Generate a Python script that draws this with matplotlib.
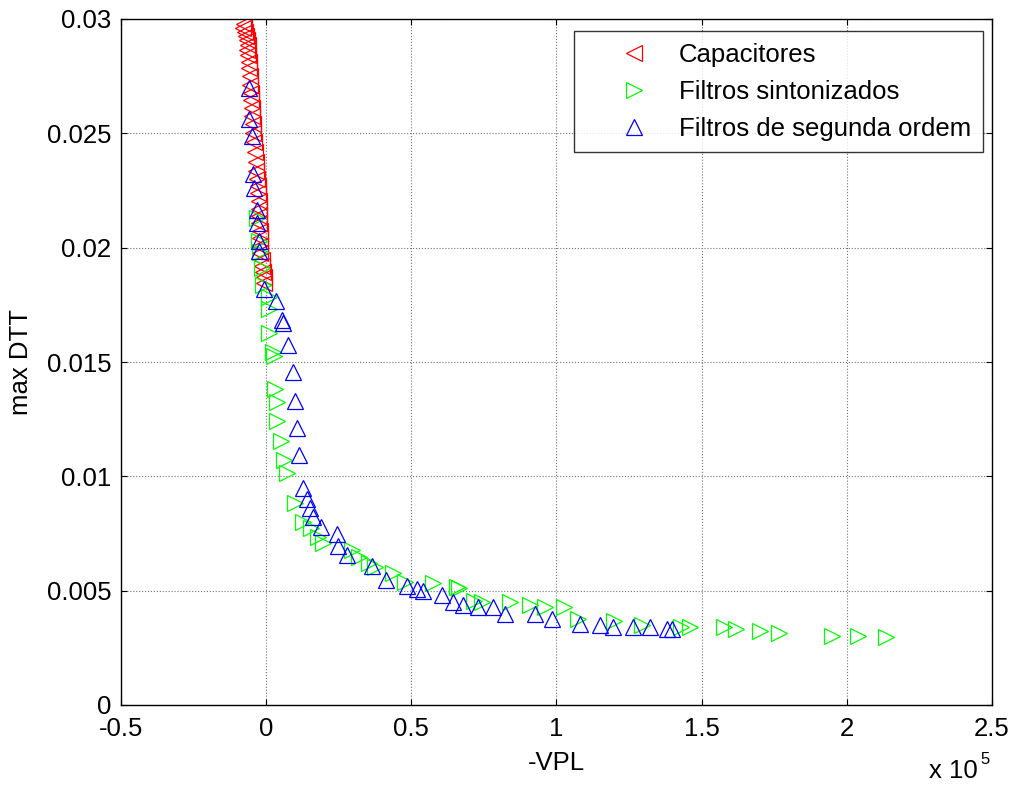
import numpy as np
import matplotlib
matplotlib.use("Agg")
import matplotlib.pyplot as plt

plt.rcParams['font.family'] = ['Liberation Sans', 'DejaVu Sans']

# -VPL in units of 1e5, max DTT
cap_x = [-0.076, -0.079, -0.072, -0.069, -0.065, -0.062, -0.065, -0.062, -0.059, -0.059,
         -0.055, -0.055, -0.052, -0.052, -0.048, -0.048, -0.045, -0.045, -0.041, -0.038,
         -0.034, -0.034, -0.031, -0.028, -0.028, -0.024, -0.024, -0.024, -0.024, -0.021,
         -0.021, -0.021, -0.021, -0.014, -0.014, -0.010, -0.007, -0.007]
cap_y = [0.02978, 0.02960, 0.02943, 0.02925, 0.02908, 0.02886, 0.02864, 0.02842, 0.02812, 0.02785,
         0.02751, 0.02711, 0.02676, 0.02646, 0.02611, 0.02576, 0.02541, 0.02501, 0.02462, 0.02418,
         0.02374, 0.02335, 0.02300, 0.02270, 0.02239, 0.02204, 0.02169, 0.02138, 0.02108, 0.02073,
         0.02042, 0.02007, 0.01977, 0.01946, 0.01920, 0.01893, 0.01872, 0.01845]

sint_x = [-0.031, -0.024, -0.021, -0.014, -0.010, 0.010, 0.010, 0.010, 0.024, 0.028,
          0.031, 0.038, 0.038, 0.052, 0.062, 0.072, 0.100, 0.127, 0.155, 0.179,
          0.196, 0.296, 0.320, 0.355, 0.375, 0.437, 0.479, 0.575, 0.658, 0.665,
          0.717, 0.744, 0.841, 0.909, 0.961, 1.027, 1.075, 1.199, 1.295, 1.430,
          1.461, 1.578, 1.619, 1.702, 1.767, 1.950, 2.039, 2.136]
sint_y = [0.02130, 0.02029, 0.01981, 0.01911, 0.01837, 0.01784, 0.01732, 0.01627, 0.01544, 0.01526,
          0.01382, 0.01325, 0.01242, 0.01154, 0.01071, 0.01015, 0.00883, 0.00800, 0.00774, 0.00735,
          0.00708, 0.00678, 0.00647, 0.00621, 0.00603, 0.00577, 0.00538, 0.00534, 0.00516, 0.00512,
          0.00455, 0.00450, 0.00450, 0.00437, 0.00429, 0.00429, 0.00376, 0.00367, 0.00350, 0.00341,
          0.00341, 0.00341, 0.00332, 0.00324, 0.00315, 0.00302, 0.00302, 0.00297]

seg_x = [-0.059, -0.059, -0.048, -0.045, -0.041, -0.031, -0.031, -0.024, -0.024, -0.007,
         0.034, 0.055, 0.059, 0.076, 0.093, 0.100, 0.107, 0.114, 0.128, 0.141,
         0.152, 0.162, 0.190, 0.245, 0.248, 0.279, 0.365, 0.413, 0.486, 0.520,
         0.541, 0.606, 0.644, 0.679, 0.730, 0.782, 0.823, 0.927, 0.985, 1.082,
         1.151, 1.195, 1.264, 1.323, 1.381, 1.399]
seg_y = [0.02698, 0.02563, 0.02488, 0.02322, 0.02261, 0.02165, 0.02108, 0.02029, 0.01985, 0.01819,
         0.01767, 0.01684, 0.01670, 0.01574, 0.01456, 0.01329, 0.01211, 0.01093, 0.00949, 0.00901,
         0.00861, 0.00822, 0.00778, 0.00748, 0.00695, 0.00656, 0.00608, 0.00547, 0.00520, 0.00507,
         0.00499, 0.00481, 0.00450, 0.00437, 0.00429, 0.00429, 0.00398, 0.00398, 0.00376, 0.00354,
         0.00350, 0.00341, 0.00341, 0.00341, 0.00332, 0.00332]

xticks = [-0.5, 0, 0.5, 1, 1.5, 2, 2.5]
xlabels = ['-0.5', '0', '0.5', '1', '1.5', '2', '2.5']
yticks = [0, 0.005, 0.01, 0.015, 0.02, 0.025, 0.03]
ylabels = ['0', '0.005', '0.01', '0.015', '0.02', '0.025', '0.03']

fs = 18.5
fig = plt.figure(figsize=(10.14, 7.89), dpi=100)
ax = fig.add_axes([121/1014, 1-705/789, 871/1014, 686/789])

ms = 11
ax.plot(cap_x, cap_y, '<', ls='none', ms=ms, mfc='none', mec=(1, 0, 0), mew=0.9, label='Capacitores')
ax.plot(sint_x, sint_y, '>', ls='none', ms=ms, mfc='none', mec=(0, 1, 0), mew=0.9, label='Filtros sintonizados')
ax.plot(seg_x, seg_y, '^', ls='none', ms=ms, mfc='none', mec=(0, 0, 1), mew=0.9, label='Filtros de segunda ordem')

ax.set_xlim(-0.5, 2.5)
ax.set_ylim(0, 0.03)
ax.set_xticks(xticks)
ax.set_xticklabels(xlabels)
ax.set_yticks(yticks)
ax.set_yticklabels(ylabels)
ax.tick_params(direction='in', top=True, right=True, length=4, labelsize=fs)
ax.tick_params(axis='x', pad=8.5)
ax.tick_params(axis='y', pad=7)
ax.grid(True, ls=':', color='0.45', lw=0.8)
for s in ax.spines.values():
    s.set_linewidth(1.0)

ax.set_xlabel('-VPL', fontsize=fs, labelpad=7)
ax.set_ylabel('max DTT', fontsize=fs, labelpad=10)

fig.text(929/1014, 1-778/789, 'x 10', fontsize=fs, va='baseline', ha='left')
fig.text(980/1014, 1-764/789, '5', fontsize=12, va='baseline', ha='left')

leg = ax.legend(loc='upper right', bbox_to_anchor=(983/1014, 1-31/789), bbox_transform=fig.transFigure,
                borderaxespad=0, fontsize=fs, frameon=True, fancybox=False, handlelength=3.77,
                handletextpad=-0.13, labelspacing=0.5, borderpad=0.46, numpoints=1)
leg.get_frame().set_edgecolor('black')
leg.get_frame().set_linewidth(1.0)

fig.savefig('out.png', dpi=100)
